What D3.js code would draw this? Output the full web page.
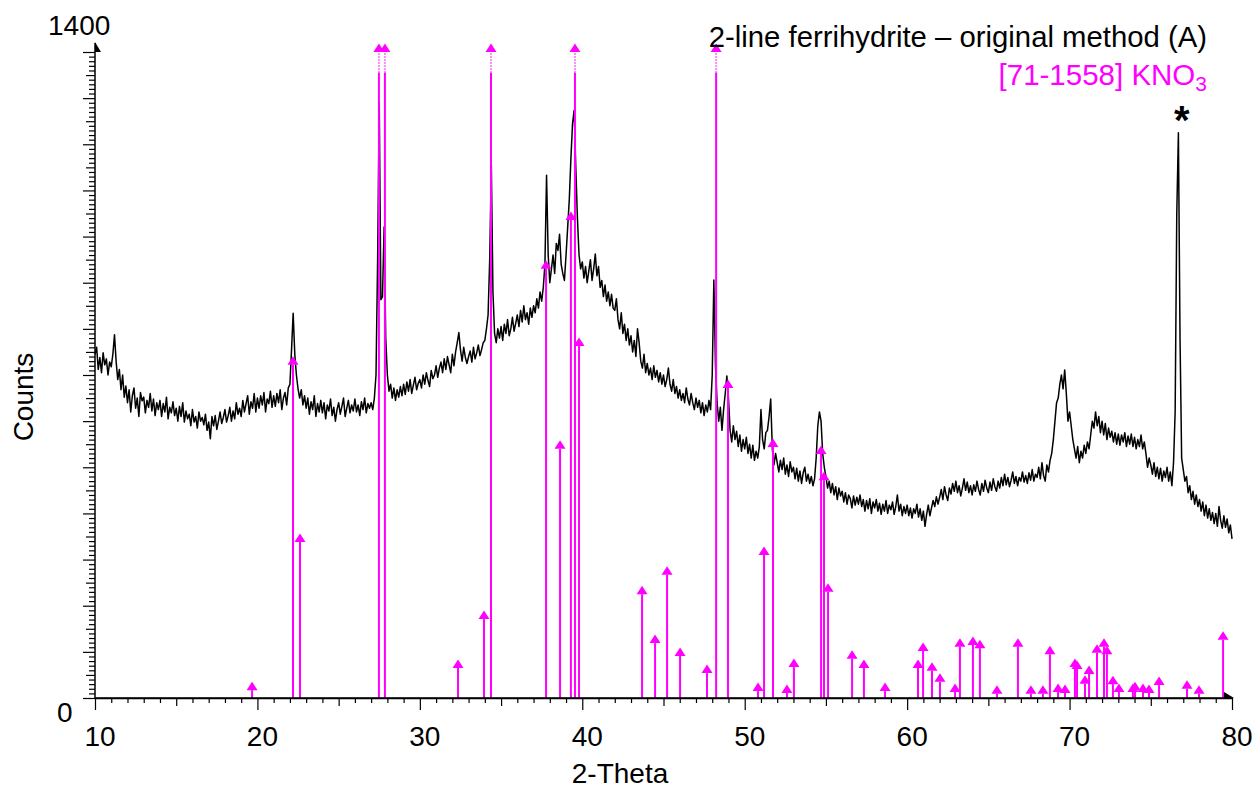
<!DOCTYPE html>
<html><head><meta charset="utf-8">
<script src="https://cdn.jsdelivr.net/npm/d3@7"></script>
<style>
html,body{margin:0;padding:0;background:#fff;}
svg{display:block;font-family:"Liberation Sans",Arial,sans-serif;}
</style></head>
<body><svg id="c" width="1258" height="789"></svg>
<script>
// ---- data ----
const twoThetaStart = 10, twoThetaStep = 0.1;
const counts = [
745,760,712,738,705,748,722,735,700,728,
718,745,787,730,690,712,668,700,652,676,
640,668,620,655,672,628,650,610,662,644,
652,618,645,630,660,622,648,612,640,625,
645,610,638,620,652,605,630,618,642,612,
628,600,632,610,640,598,622,605,615,590,
625,598,610,585,620,600,608,592,615,580,
598,562,610,590,612,582,600,620,595,608,
625,598,612,630,600,622,605,640,615,628,
610,645,620,638,655,615,642,628,660,620,
650,628,655,635,662,620,648,638,665,630,
655,632,660,640,668,625,650,662,635,672,
680,755,834,745,700,670,650,668,635,655,
628,650,615,642,625,655,610,638,620,645,
618,640,605,635,622,648,612,630,600,625,
640,615,632,650,610,628,645,618,635,622,
648,620,635,612,642,625,650,618,638,628,
640,625,650,700,950,1290,863,870,1021,780,
700,665,680,650,672,645,668,652,675,655,
680,658,685,665,690,660,678,695,668,682,
690,672,700,680,705,688,675,710,692,700,
720,695,715,728,705,735,712,740,722,705,
745,720,750,770,792,755,730,760,738,725,
740,752,728,760,735,748,765,742,755,770,
775,800,830,950,1155,880,790,770,800,780,
805,775,810,790,820,785,800,825,795,812,
830,805,840,815,850,820,835,810,845,825,
850,835,865,845,880,860,890,940,1133,960,
900,930,960,920,985,970,1005,940,920,905,
960,1020,1080,1170,1245,1274,1150,1040,960,930,
945,910,935,900,925,950,905,930,962,915,
935,890,905,870,895,860,880,850,875,845,
840,865,820,800,835,790,810,775,800,765,
785,750,775,740,800,770,730,715,745,705,
725,700,715,690,720,695,710,685,705,680,
700,675,690,715,680,665,690,660,675,650,
668,645,660,640,672,648,635,660,640,625,
650,630,645,618,640,612,635,620,645,625,
700,906,720,640,600,630,580,625,660,698,
650,580,555,590,560,578,545,570,535,560,
540,565,530,550,520,548,515,535,520,545,
625,560,540,575,580,610,648,540,505,530,
510,490,515,495,520,485,505,480,512,490,
500,475,498,470,492,465,488,500,470,485,
465,480,460,475,520,590,620,600,530,500,
480,455,470,445,465,440,458,430,455,438,
448,425,445,420,440,432,412,438,418,435,
420,440,415,430,405,428,410,432,400,425,
412,430,405,422,398,420,405,428,400,418,
408,425,398,415,440,405,420,395,415,400,
418,395,412,390,410,400,420,392,410,385,
405,372,398,418,395,412,428,415,436,420,
435,452,430,458,440,428,455,442,465,448,
470,445,460,438,455,475,450,468,445,460,
440,462,448,470,452,440,465,448,472,455,
445,468,450,475,458,448,470,455,478,460,
485,462,478,458,472,490,465,480,460,478,
470,490,468,482,465,488,472,495,470,485,
478,500,475,510,482,470,505,490,515,530,
560,600,640,650,680,700,670,711,660,600,
620,590,560,540,520,545,510,535,520,548,
530,555,540,570,600,585,620,590,610,575,
600,570,595,560,585,565,578,555,575,550,
572,548,570,555,575,545,568,550,572,545,
565,540,560,545,570,540,555,530,500,520,
505,485,510,480,500,475,498,470,492,478,
500,470,490,460,510,620,1050,1225,780,520,
495,470,480,445,460,430,448,420,440,415,
430,405,425,395,418,390,410,385,402,378,
400,372,415,385,368,395,370,388,358,375,
345
];
// KNO3 reference pattern [71-1558] (values >= 1400 are off-scale)
const stickPos = [19.67,22.19,22.62,27.48,27.85,32.35,33.95,34.38,37.77,38.63,39.30,39.55,39.80,
43.68,44.48,45.22,46.02,47.68,48.24,48.97,50.82,51.19,51.74,52.60,53.03,54.70,54.88,55.13,
56.61,57.34,58.64,60.67,60.98,61.53,62.02,62.95,63.25,64.05,64.48,65.53,66.82,67.62,68.36,
68.79,69.29,69.72,70.33,70.46,70.95,71.20,71.69,72.12,72.30,72.67,73.04,73.90,74.03,74.52,
74.89,75.51,77.23,77.97,79.45];
const stickInt = [17,722,338,1400,1400,65,171,1400,930,540,1036,1400,763,
225,119,267,91,54,1400,672,15,310,544,11,67,529,472,230,
85,65,15,65,102,59,35,13,111,115,108,9,111,9,9,
95,13,11,67,63,31,52,98,111,95,30,13,13,17,13,
11,28,20,9,126];
const xTicks = d3.range(10, 81, 1);
const xLabels = [10,20,30,40,50,60,70,80];
const yTicks = d3.range(0, 1401, 10);
const yLabels = [0,1400];
const titleText = "2-line ferrihydrite \u2013 original method (A)";
const refText = "[71-1558] KNO";
const refSub = "3";

// ---- drawing ----
const svg = d3.select("#c");
const x = d3.scaleLinear().domain([10,80]).range([95,1232]);
const y = d3.scaleLinear().domain([0,1400]).range([698,52]);
const MAG = "#ff00ff";

// curve
const pts = counts.map((c,i)=>[twoThetaStart + i*twoThetaStep, c]);
svg.append("path").datum(pts)
  .attr("fill","none").attr("stroke","#000").attr("stroke-width",1.5)
  .attr("stroke-linejoin","round")
  .attr("d", d3.line().x(d=>x(d[0])).y(d=>y(d[1])));

// sticks
const sticks = stickPos.map((p,i)=>({p, v: Math.min(stickInt[i],1400), off: stickInt[i]>=1400}));
const sg = svg.append("g");
sticks.forEach(s=>{
  const px = x(s.p);
  if (s.off) {
    sg.append("line").attr("x1",px).attr("x2",px).attr("y1",y(0)).attr("y2",y(1355))
      .attr("stroke",MAG).attr("stroke-width",2);
    sg.append("line").attr("x1",px).attr("x2",px).attr("y1",y(1355)).attr("y2",y(1400))
      .attr("stroke",MAG).attr("stroke-width",2).attr("stroke-dasharray","1.5,1.5").attr("opacity",0.6);
  } else {
    sg.append("line").attr("x1",px).attr("x2",px).attr("y1",y(0)).attr("y2",y(s.v))
      .attr("stroke",MAG).attr("stroke-width",2);
  }
  const ty = y(s.v);
  sg.append("path").attr("d",`M${px-5.5},${ty}L${px+5.5},${ty}L${px},${ty-8.5}Z`).attr("fill",MAG);
});

// axes
const xAxis = svg.append("g").attr("transform",`translate(0,${y(0)})`)
  .call(d3.axisBottom(x).tickValues(xTicks).tickSizeOuter(0).tickFormat(()=>""));
xAxis.select(".domain").attr("stroke","#000").attr("stroke-width",1.5);
xAxis.selectAll(".tick line").attr("stroke","#000").attr("stroke-width",1.2)
  .attr("y2", d=> d%10===0 ? 12 : (d%5===0 ? 8 : 5));
xLabels.forEach(v=>{
  svg.append("text").attr("x", x(v)+5).attr("y",746).attr("text-anchor","middle")
    .attr("font-size",28).attr("fill","#000").text(v);
});

const yAxis = svg.append("g").attr("transform",`translate(${x(10)},0)`)
  .call(d3.axisLeft(y).tickValues(yTicks).tickSizeOuter(0).tickFormat(()=>""));
yAxis.select(".domain").remove();
yAxis.selectAll(".tick line").attr("stroke","#000").attr("stroke-width",1.2)
  .attr("x2", d=> d%100===0 ? -12 : (d%50===0 ? -9 : -6));
svg.append("line").attr("x1",x(10)).attr("x2",x(10)).attr("y1",y(0)).attr("y2",43)
  .attr("stroke","#000").attr("stroke-width",1.5);
svg.append("line").attr("x1",x(10)).attr("x2",x(80)).attr("y1",y(0)).attr("y2",y(0))
  .attr("stroke","#000").attr("stroke-width",1.5);
// arrow heads
svg.append("path").attr("d",`M${x(10)},42L${x(10)+6},52L${x(10)},52Z`).attr("fill","#000");
svg.append("path").attr("d",`M${x(80)+2},${y(0)}L${x(80)-8},${y(0)-6}L${x(80)-8},${y(0)}Z`).attr("fill","#000");

svg.append("text").attr("x",48).attr("y",35).attr("font-size",28).text(yLabels[1]);
svg.append("text").attr("x",57).attr("y",722).attr("font-size",28).text(yLabels[0]);

svg.append("text").attr("x",620).attr("y",783).attr("text-anchor","middle")
  .attr("font-size",28).text("2-Theta");
svg.append("text").attr("transform","translate(33,397) rotate(-90)").attr("text-anchor","middle")
  .attr("font-size",28).text("Counts");

svg.append("text").attr("x",1207).attr("y",47).attr("text-anchor","end")
  .attr("font-size",29.3).text(titleText);
const rt = svg.append("text").attr("x",1207).attr("y",85).attr("text-anchor","end")
  .attr("font-size",29.5).attr("fill",MAG);
rt.append("tspan").text(refText);
rt.append("tspan").attr("font-size",21).attr("dy",6).text(refSub);

svg.append("text").attr("x",x(76.67)+4).attr("y",134).attr("text-anchor","middle")
  .attr("font-size",40).attr("font-weight","bold").text("*");
</script></body></html>
